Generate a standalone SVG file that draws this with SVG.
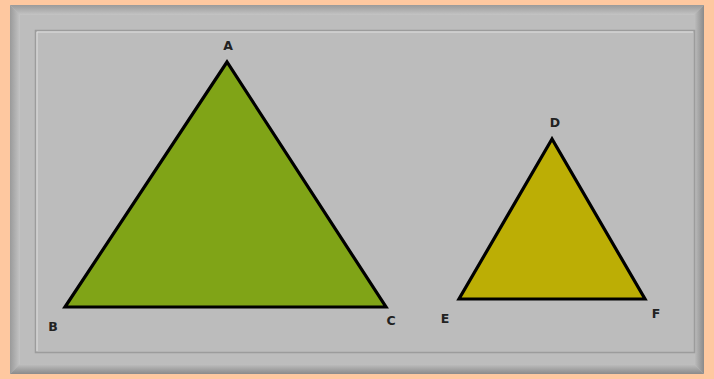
<svg xmlns="http://www.w3.org/2000/svg" width="714" height="379" viewBox="0 0 714 379">
<defs>
<linearGradient id="bl" x1="0" y1="0" x2="1" y2="0"><stop offset="0" stop-color="#9a9a9a"/><stop offset="1" stop-color="#c4c4c4"/></linearGradient>
<linearGradient id="bt" x1="0" y1="0" x2="0" y2="1"><stop offset="0" stop-color="#9a9a9a"/><stop offset="1" stop-color="#c4c4c4"/></linearGradient>
<linearGradient id="br" x1="0" y1="0" x2="1" y2="0"><stop offset="0" stop-color="#c0c0c0"/><stop offset="1" stop-color="#8a8a8a"/></linearGradient>
<linearGradient id="bb" x1="0" y1="0" x2="0" y2="1"><stop offset="0" stop-color="#c0c0c0"/><stop offset="1" stop-color="#8a8a8a"/></linearGradient>
</defs>
<style>
.tri{stroke:#000;stroke-width:3.2;stroke-linejoin:miter}
.lbl{font-family:"DejaVu Sans","Liberation Sans",sans-serif;font-weight:bold;font-size:12.5px;fill:#222;text-anchor:middle}
</style>
<rect x="0" y="0" width="714" height="379" fill="#fec8a0"/>
<g id="frame">
<rect x="10" y="5" width="694" height="369" fill="#bdbdbd"/>
<polygon points="10,5 704,5 694,15 20,15" fill="url(#bt)"/>
<polygon points="10,5 20,15 20,364 10,374" fill="url(#bl)"/>
<polygon points="704,5 704,374 694,364 694,15" fill="url(#br)"/>
<polygon points="10,374 20,364 694,364 704,374" fill="url(#bb)"/>
<rect x="35.5" y="30.5" width="659" height="322" fill="#bcbcbc" stroke="#9c9c9c" stroke-width="1.5"/>
<line x1="37" y1="32" x2="693" y2="32" stroke="#e0e0e0" stroke-width="1"/>
<line x1="37" y1="32" x2="37" y2="351" stroke="#e0e0e0" stroke-width="1"/>
</g>
<g id="triangleABC">
<polygon class="tri" points="227,62 65,307 386,307" fill="#80a417"/>
<text class="lbl" x="228" y="50">A</text>
<text class="lbl" x="53" y="331">B</text>
<text class="lbl" x="391" y="325">C</text>
</g>
<g id="triangleDEF">
<polygon class="tri" points="552,139 459,299 645,299" fill="#bcae05"/>
<text class="lbl" x="555" y="127">D</text>
<text class="lbl" x="445" y="323">E</text>
<text class="lbl" x="656" y="318">F</text>
</g>
</svg>
